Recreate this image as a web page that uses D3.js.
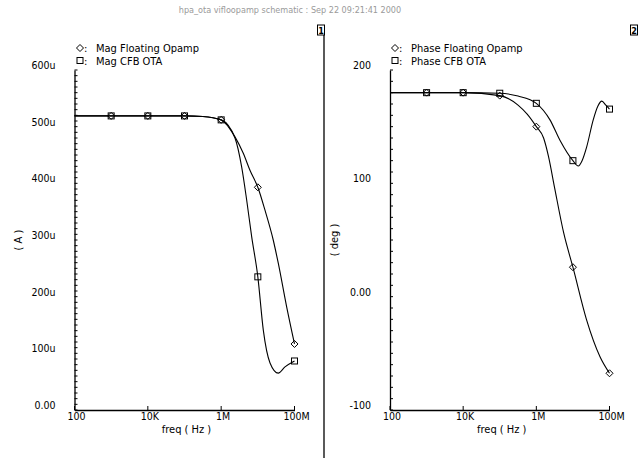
<!DOCTYPE html>
<html><head><meta charset="utf-8">
<script src="https://cdn.jsdelivr.net/npm/d3@7/dist/d3.min.js"></script>
<style>
body{margin:0;background:#fff;}
text{font-family:"DejaVu Sans Condensed","DejaVu Sans",sans-serif;fill:#000;}
</style></head>
<body><svg id="c" width="640" height="460"></svg>
<script>
// ---- data (frequency in Hz, magnitude in uA, phase in deg) ----
const titleText = "hpa_ota vifloopamp schematic : Sep 22 09:21:41 2000";
const xTickValues = [1e2, 1e4, 1e6, 1e8];
const xTickLabels = ["100", "10K", "1M", "100M"];
const magTickValues = [0, 100, 200, 300, 400, 500, 600];
const magTickLabels = ["0.00", "100u", "200u", "300u", "400u", "500u", "600u"];
const phaseTickValues = [-100, 0, 100, 200];
const phaseTickLabels = ["-100", "0.00", "100", "200"];

const magFloatFreq = [1e2,1e3,1e4,1e5,3.16e5,1e6,2.38e6,4.01e6,6.1e6,1e7,1.56e7,2.63e7,3.61e7,6.11e7,1e8];
const magFloatVal  = [519,519,519,519,518,512,482,453,423,393,353,300,259,182,116.5];
const magCfbFreq   = [1e2,1e3,1e4,1e5,3.16e5,1e6,2.38e6,3.62e6,4.95e6,6.79e6,1e7,1.41e7,2.15e7,3.61e7,5.5e7,1e8];
const magCfbVal    = [519,519,519,519,518,512,480,429,371,306,235,141,83,65,76,86.5];

const phFloatFreq = [1e2,1e3,1e4,1e5,3.16e5,5.62e5,1e6,1.58e6,2.14e6,3.16e6,5.62e6,1e7,2.34e7,5.5e7,1e8];
const phFloatVal  = [180,180,180,177.4,169,161,150,140,124,96,56,26,-20,-53,-67.6];
const phCfbFreq   = [1e2,1e3,1e4,1e5,3.16e5,1e6,2.36e6,4.42e6,1e7,1.4e7,1.78e7,2.37e7,3.59e7,4.79e7,6.17e7,7.94e7,1e8];
const phCfbVal    = [180,180,180,179.5,177,170.6,156,138,120,115.3,120,132,156,168,172.5,169,165.5];

const svg = d3.select("#c");

// title
svg.append("text").attr("x", 290).attr("y", 13).attr("text-anchor","middle")
  .style("font-size","9px").style("fill","#9a9a9a").text(titleText);

// divider + panel number boxes
svg.append("line").attr("x1",324).attr("x2",324).attr("y1",35).attr("y2",458).attr("stroke","#000").attr("stroke-width",1.3);
function numBox(x, label){
  svg.append("rect").attr("x",x-3.5).attr("y",25).attr("width",7).attr("height",10).attr("fill","#fff").attr("stroke","#000").attr("stroke-width",1);
  svg.append("text").attr("x",x).attr("y",33.5).attr("text-anchor","middle").style("font-size","9px").style("font-weight","bold").text(label);
}
numBox(321, "1");
numBox(634, "2");

function marker(g, type, x, y){
  if(type === "diamond"){
    g.append("path").attr("d", `M${x},${y-3.5}L${x+3.5},${y}L${x},${y+3.5}L${x-3.5},${y}Z`)
      .attr("fill","none").attr("stroke","#000").attr("stroke-width",1);
  } else {
    g.append("rect").attr("x",x-3).attr("y",y-3).attr("width",6).attr("height",6)
      .attr("fill","none").attr("stroke","#000").attr("stroke-width",1);
  }
}

function panel(opt){
  const x = d3.scaleLog().domain([1e2,1e8]).range([opt.x0, opt.x1]);
  const y = d3.scaleLinear().domain(opt.yDomain).range([410, 70]);
  const g = svg.append("g");

  // y axis with minor ticks
  const yAxis = d3.axisLeft(y).tickValues(opt.yTicks).tickFormat((d,i)=>"").tickSize(0);
  const ya = g.append("g").attr("transform",`translate(${opt.x0},0)`).call(yAxis);
  ya.select(".domain").attr("stroke","#000").attr("stroke-width",1.3);
  const minor = d3.range(opt.yDomain[0], opt.yDomain[1] + opt.minorStep/2, opt.minorStep);
  g.selectAll(".ymin").data(minor).join("line")
    .attr("x1",opt.x0).attr("x2",opt.x0+3).attr("y1",d=>y(d)).attr("y2",d=>y(d))
    .attr("stroke","#000").attr("stroke-width",1);
  g.selectAll(".ylab").data(opt.yTicks).join("text")
    .attr("x",opt.x0-19).attr("y",d=>y(d)-1).attr("text-anchor","end")
    .style("font-size","10.5px").text((d,i)=>opt.yLabels[i]);

  // x axis
  const xAxis = d3.axisBottom(x).tickValues(xTickValues).tickFormat(()=> "").tickSize(0);
  const xa = g.append("g").attr("transform","translate(0,410)").call(xAxis);
  xa.select(".domain").attr("stroke","#000").attr("stroke-width",1.3);
  g.selectAll(".xt").data(xTickValues).join("line")
    .attr("x1",d=>x(d)).attr("x2",d=>x(d)).attr("y1",410).attr("y2",406)
    .attr("stroke","#000").attr("stroke-width",1);
  g.selectAll(".xlab").data(xTickValues).join("text")
    .attr("x",d=>x(d)+2).attr("y",420).attr("text-anchor","middle")
    .style("font-size","10.5px").text((d,i)=>xTickLabels[i]);
  g.append("text").attr("x",(opt.x0+opt.x1)/2 + 2).attr("y",433).attr("text-anchor","middle")
    .style("font-size","11px").text("freq ( Hz )");
  g.append("text").attr("transform",`translate(${opt.yTitleX},240) rotate(-90)`).attr("text-anchor","middle")
    .style("font-size","11px").text(opt.yTitle);

  const line = d3.line().x(d=>x(d[0])).y(d=>y(d[1])).curve(d3.curveMonotoneX);
  opt.series.forEach(s=>{
    const pts = s.f.map((f,i)=>[f, s.v[i]]);
    g.append("path").datum(pts).attr("d",line).attr("fill","none").attr("stroke","#000").attr("stroke-width",1.1);
    pts.filter(p => p[0] > 100 && Math.abs(Math.log10(p[0]) - Math.round(Math.log10(p[0]))) < 1e-6)
      .forEach(p => marker(g, s.marker, x(p[0]), y(p[1])));
  });

  // legend
  opt.series.forEach((s,i)=>{
    const ly = 48 + i*12.5;
    marker(g, s.marker, opt.legX, ly);
    g.append("text").attr("x",opt.legX+4).attr("y",ly+4).style("font-size","11px").text(":");
    g.append("text").attr("x",opt.legX+16).attr("y",ly+4).style("font-size","11px").text(s.name);
  });
}

panel({x0:74.5, x1:294.5, yDomain:[0,600], yTicks:magTickValues, yLabels:magTickLabels, minorStep:10,
  yTitle:"( A )", yTitleX:22, legX:80,
  series:[{name:"Mag Floating Opamp", f:magFloatFreq, v:magFloatVal, marker:"diamond"},
          {name:"Mag CFB OTA", f:magCfbFreq, v:magCfbVal, marker:"square"}]});

panel({x0:390, x1:609.5, yDomain:[-100,200], yTicks:phaseTickValues, yLabels:phaseTickLabels, minorStep:10,
  yTitle:"( deg )", yTitleX:338, legX:395,
  series:[{name:"Phase Floating Opamp", f:phFloatFreq, v:phFloatVal, marker:"diamond"},
          {name:"Phase CFB OTA", f:phCfbFreq, v:phCfbVal, marker:"square"}]});
</script></body></html>
